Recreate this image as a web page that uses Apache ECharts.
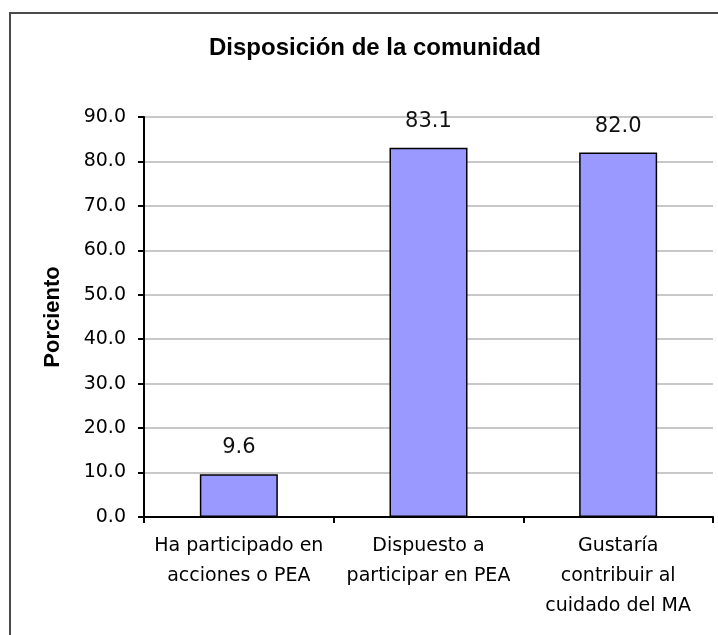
<!DOCTYPE html>
<html>
<head>
<meta charset="utf-8">
<style>
  html, body { margin: 0; padding: 0; background: #fff; }
  #chart { width: 718px; height: 635px; }
</style>
<script src="https://cdn.jsdelivr.net/npm/echarts@6/dist/echarts.min.js"></script>
</head>
<body>
<div id="chart"></div>
<script>
const titleText = "Disposición de la comunidad";
const yAxisName = "Porciento";
const categories = [
  "Ha participado en\nacciones o PEA",
  "Dispuesto a\nparticipar en PEA",
  "Gustaría\ncontribuir al\ncuidado del MA"
];
const values = [9.6, 83.1, 82.0];
const yMin = 0, yMax = 90, yStep = 10;

const chart = echarts.init(document.getElementById('chart'), null, { renderer: 'canvas' });
chart.setOption({
  animation: false,
  backgroundColor: '#ffffff',
  graphic: [{
    type: 'rect',
    shape: { x: 10, y: 13, width: 730, height: 650 },
    style: { fill: 'none', stroke: '#4a4a4a', lineWidth: 2 },
    silent: true
  }],
  title: {
    text: titleText,
    left: 370,
    top: 31,
    textAlign: 'center',
    textStyle: { fontFamily: 'Liberation Sans', fontWeight: 'bold', fontSize: 24, color: '#000' }
  },
  grid: { left: 144, right: 5, top: 117, bottom: 118, containLabel: false },
  xAxis: {
    type: 'category',
    data: categories,
    axisLine: { lineStyle: { color: '#000', width: 2 } },
    axisTick: { show: true, length: 6, alignWithLabel: false, lineStyle: { color: '#000', width: 2 } },
    axisLabel: {
      interval: 0,
      margin: 14,
      fontFamily: 'DejaVu Sans',
      fontSize: 19,
      lineHeight: 30,
      color: '#000'
    },
    splitLine: { show: false }
  },
  yAxis: {
    type: 'value',
    min: yMin, max: yMax, interval: yStep,
    name: yAxisName,
    nameLocation: 'middle',
    nameGap: 80,
    nameTextStyle: { fontFamily: 'Liberation Sans', fontWeight: 'bold', fontSize: 22, color: '#000' },
    axisLine: { show: true, lineStyle: { color: '#000', width: 2 } },
    axisTick: { show: true, length: 6, lineStyle: { color: '#000', width: 2 } },
    axisLabel: {
      formatter: v => v.toFixed(1),
      margin: 18,
      fontFamily: 'DejaVu Sans',
      fontSize: 19,
      color: '#000'
    },
    splitLine: { show: true, lineStyle: { color: '#c8c8c8', width: 2 } }
  },
  series: [{
    type: 'bar',
    data: values,
    barWidth: 78,
    itemStyle: { color: '#9999ff', borderColor: '#000', borderWidth: 1.5 },
    label: {
      show: true,
      position: 'top',
      distance: 16,
      formatter: p => p.value.toFixed(1),
      fontFamily: 'DejaVu Sans',
      fontSize: 21,
      color: '#111'
    }
  }]
});
</script>
</body>
</html>
